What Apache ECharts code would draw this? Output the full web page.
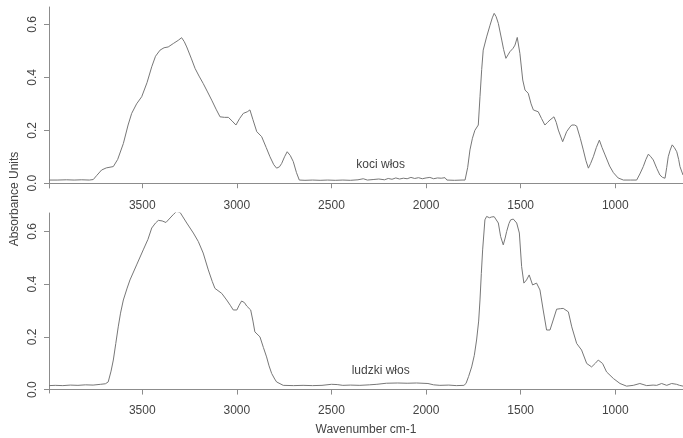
<!DOCTYPE html>
<html>
<head>
<meta charset="utf-8">
<title>Widma FTIR - koci i ludzki włos</title>
<script src="https://cdn.jsdelivr.net/npm/echarts@6/dist/echarts.min.js"></script>
<style>
	html, body { margin: 0; padding: 0; background: #fff; }
	#chart { width: 683px; height: 438px; }
</style>
</head>
<body>
<div id="chart"></div>
<script>
	// widmo: koci włos (górny panel) - liczba falowa / absorbancja
	const kociX = [3993, 3950, 3900, 3860, 3820, 3780, 3759, 3740, 3715, 3690, 3653, 3630, 3600, 3575, 3556, 3530, 3503, 3475, 3450, 3430, 3406, 3385, 3363, 3336, 3310, 3292, 3278, 3265, 3240, 3221, 3200, 3178, 3155, 3133, 3110, 3089, 3065, 3045, 3025, 3005, 2985, 2966, 2945, 2931, 2915, 2895, 2869, 2845, 2825, 2805, 2790, 2775, 2763, 2748, 2734, 2718, 2702, 2685, 2670, 2640, 2600, 2560, 2520, 2480, 2440, 2400, 2360, 2332, 2310, 2280, 2250, 2220, 2200, 2180, 2160, 2140, 2120, 2100, 2080, 2060, 2040, 2020, 2000, 1980, 1960, 1940, 1920, 1900, 1890, 1850, 1810, 1794, 1780, 1768, 1755, 1742, 1724, 1715, 1706, 1698, 1680, 1662, 1650, 1640, 1630, 1618, 1600, 1590, 1578, 1567, 1557, 1540, 1530, 1518, 1504, 1489, 1477, 1460, 1445, 1433, 1407, 1390, 1372, 1358, 1345, 1324, 1312, 1301, 1278, 1268, 1257, 1240, 1230, 1215, 1204, 1185, 1169, 1155, 1142, 1130, 1116, 1100, 1084, 1070, 1054, 1030, 1010, 985, 957, 920, 887, 870, 852, 838, 825, 812, 799, 780, 764, 750, 737, 728, 720, 710, 699, 688, 675, 665, 658, 642]
	const kociY = [0.012, 0.012, 0.013, 0.012, 0.013, 0.012, 0.014, 0.03, 0.05, 0.058, 0.063, 0.09, 0.15, 0.22, 0.264, 0.3, 0.327, 0.38, 0.44, 0.48, 0.503, 0.512, 0.515, 0.528, 0.54, 0.55, 0.535, 0.515, 0.47, 0.434, 0.405, 0.377, 0.345, 0.314, 0.28, 0.251, 0.249, 0.249, 0.235, 0.22, 0.245, 0.264, 0.27, 0.277, 0.24, 0.195, 0.176, 0.135, 0.1, 0.07, 0.057, 0.062, 0.075, 0.1, 0.119, 0.105, 0.082, 0.04, 0.012, 0.011, 0.012, 0.011, 0.012, 0.011, 0.012, 0.011, 0.013, 0.017, 0.012, 0.014, 0.016, 0.013, 0.018, 0.015, 0.02, 0.016, 0.019, 0.017, 0.022, 0.018, 0.021, 0.017, 0.02, 0.022, 0.017, 0.02, 0.019, 0.021, 0.012, 0.011, 0.012, 0.012, 0.06, 0.126, 0.17, 0.2, 0.22, 0.327, 0.43, 0.503, 0.553, 0.597, 0.625, 0.642, 0.63, 0.604, 0.541, 0.505, 0.472, 0.485, 0.497, 0.51, 0.522, 0.551, 0.49, 0.39, 0.352, 0.34, 0.3, 0.277, 0.27, 0.245, 0.22, 0.23, 0.239, 0.251, 0.23, 0.201, 0.157, 0.175, 0.195, 0.212, 0.22, 0.22, 0.216, 0.17, 0.126, 0.085, 0.057, 0.075, 0.1, 0.135, 0.163, 0.135, 0.107, 0.065, 0.04, 0.02, 0.012, 0.012, 0.012, 0.035, 0.063, 0.09, 0.11, 0.1, 0.088, 0.055, 0.031, 0.022, 0.019, 0.06, 0.1, 0.125, 0.145, 0.135, 0.119, 0.09, 0.063, 0.031]

	// widmo: ludzki włos (dolny panel)
	const ludzkiX = [3993, 3960, 3920, 3880, 3840, 3800, 3760, 3720, 3695, 3680, 3665, 3653, 3640, 3627, 3615, 3600, 3580, 3565, 3530, 3495, 3470, 3450, 3430, 3415, 3395, 3375, 3353, 3335, 3318, 3300, 3285, 3265, 3230, 3204, 3178, 3151, 3130, 3116, 3080, 3054, 3035, 3019, 3000, 2988, 2975, 2960, 2948, 2927, 2915, 2905, 2878, 2860, 2843, 2830, 2816, 2800, 2790, 2755, 2700, 2650, 2600, 2550, 2500, 2470, 2440, 2400, 2350, 2300, 2260, 2210, 2150, 2100, 2050, 1990, 1960, 1927, 1880, 1840, 1800, 1789, 1775, 1759, 1745, 1733, 1722, 1715, 1708, 1701, 1689, 1680, 1665, 1653, 1640, 1631, 1618, 1606, 1592, 1582, 1574, 1562, 1553, 1539, 1521, 1507, 1495, 1483, 1469, 1455, 1437, 1416, 1398, 1381, 1363, 1345, 1328, 1310, 1290, 1275, 1248, 1230, 1204, 1178, 1151, 1125, 1105, 1090, 1067, 1046, 1010, 975, 940, 905, 870, 834, 800, 781, 755, 728, 702, 676, 660, 642]
	const ludzkiY = [0.015, 0.016, 0.015, 0.017, 0.016, 0.018, 0.017, 0.02, 0.022, 0.029, 0.07, 0.112, 0.175, 0.238, 0.29, 0.34, 0.385, 0.416, 0.473, 0.53, 0.57, 0.613, 0.632, 0.642, 0.64, 0.634, 0.651, 0.665, 0.676, 0.672, 0.655, 0.632, 0.594, 0.562, 0.518, 0.454, 0.41, 0.384, 0.365, 0.34, 0.32, 0.302, 0.302, 0.32, 0.336, 0.33, 0.317, 0.302, 0.26, 0.219, 0.2, 0.16, 0.124, 0.09, 0.061, 0.04, 0.029, 0.016, 0.015, 0.016, 0.015, 0.016, 0.02, 0.019, 0.016, 0.017, 0.016, 0.018, 0.02, 0.024, 0.025, 0.024, 0.025, 0.023, 0.018, 0.016, 0.017, 0.015, 0.016, 0.023, 0.05, 0.086, 0.13, 0.188, 0.26, 0.34, 0.44, 0.53, 0.644, 0.657, 0.652, 0.655, 0.656, 0.66, 0.632, 0.581, 0.549, 0.575, 0.6, 0.63, 0.644, 0.647, 0.632, 0.594, 0.467, 0.404, 0.416, 0.435, 0.397, 0.404, 0.378, 0.302, 0.226, 0.226, 0.264, 0.305, 0.307, 0.308, 0.295, 0.238, 0.175, 0.15, 0.099, 0.086, 0.1, 0.112, 0.099, 0.067, 0.042, 0.023, 0.013, 0.016, 0.023, 0.015, 0.017, 0.016, 0.023, 0.016, 0.023, 0.02, 0.016, 0.013]

	const xTicks = [1000, 1500, 2000, 2500, 3000, 3500]
	const yTicks = [0, 0.2, 0.4, 0.6]
	const labelPos = [2240, 0.07] // miejsce podpisu próbki

	const chart = echarts.init(document.getElementById('chart'))

	const axisColor = '#8c8c8c'
	const textColor = '#444'
	const font = 'Liberation Sans, Arial, sans-serif'

	// wspólne ustawienia osi
	function makeX(gridIndex, showName) {
		return {
			type: 'value',
			gridIndex: gridIndex,
			inverse: true,
			min: 642,
			max: 3993,
			splitLine: { show: false },
			axisLine: { lineStyle: { color: axisColor, width: 1 } },
			axisTick: { customValues: xTicks, length: 5, lineStyle: { color: axisColor } },
			axisLabel: {
				customValues: xTicks,
				margin: 12,
				color: textColor,
				fontSize: 12,
				fontFamily: font,
				formatter: v => String(v)
			},
			name: showName ? 'Wavenumber cm-1' : '',
			nameLocation: 'middle',
			nameGap: 31,
			nameTextStyle: { color: textColor, fontSize: 12, fontFamily: font }
		}
	}

	function makeY(gridIndex, min, max) {
		return {
			type: 'value',
			gridIndex: gridIndex,
			min: min,
			max: max,
			splitLine: { show: false },
			axisLine: { show: true, lineStyle: { color: axisColor, width: 1 } },
			axisTick: { show: true, customValues: yTicks, length: 5, lineStyle: { color: axisColor } },
			axisLabel: {
				customValues: yTicks,
				rotate: 90,
				margin: 10,
				color: textColor,
				fontSize: 12,
				fontFamily: font,
				formatter: v => v.toFixed(1)
			}
		}
	}

	function makeSeries(name, xs, ys, idx) {
		return {
			name: name,
			type: 'line',
			xAxisIndex: idx,
			yAxisIndex: idx,
			data: xs.map((x, i) => [x, ys[i]]),
			showSymbol: false,
			symbol: 'none',
			lineStyle: { color: '#777', width: 1 },
			markPoint: {
				symbol: 'circle',
				symbolSize: 0,
				data: [{ coord: labelPos }],
				label: {
					show: true,
					position: 'inside',
					formatter: name,
					color: textColor,
					fontSize: 12,
					fontFamily: font
				}
			}
		}
	}

	const option = {
		animation: false,
		backgroundColor: '#fff',
		grid: [
			{ left: 49, top: 7, width: 634, height: 181 },
			{ left: 49, top: 213, width: 634, height: 180 }
		],
		xAxis: [makeX(0, false), makeX(1, true)],
		yAxis: [makeY(0, -0.018, 0.666), makeY(1, -0.013, 0.67)],
		series: [
			makeSeries('koci włos', kociX, kociY, 0),
			makeSeries('ludzki włos', ludzkiX, ludzkiY, 1)
		],
		graphic: [{
			type: 'text',
			x: 15,
			y: 199,
			rotation: Math.PI / 2,
			style: {
				text: 'Absorbance Units',
				fill: textColor,
				font: '12px ' + font,
				align: 'center',
				verticalAlign: 'middle'
			}
		}]
	}

	chart.setOption(option)
</script>
</body>
</html>
